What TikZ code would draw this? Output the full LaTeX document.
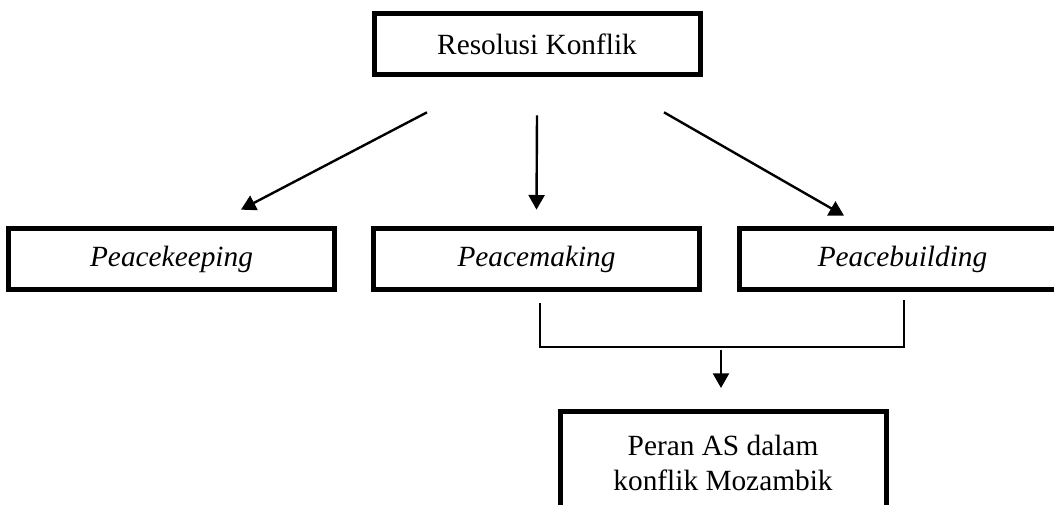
\documentclass[tikz,border=0pt]{standalone}
\usepackage{fontspec}
\setmainfont{Liberation Serif}
\usetikzlibrary{arrows.meta,positioning}

\begin{document}
\begin{tikzpicture}[x=0.75pt, y=-0.75pt, font=\fontsize{22}{26.25}\selectfont,
  box/.style={draw, line width=3.75pt, minimum width=244.5pt, minimum height=45.5pt, inner sep=0pt},
  arr/.style={-{Triangle[length=11pt,width=12pt]}, line width=1.8pt}]
  \useasboundingbox (0,0) rectangle (1054,505);
  \clip (0,0) rectangle (1054,505);

  \node[box] (top) at (537,44) {Resolusi Konflik};

  \node[box] (making) at (536.5,259) {\textit{Peacemaking}};
  \node[box, left=25.5pt of making] (keeping) {\textit{Peacekeeping}};
  \node[box, right=26.25pt of making] (building) {\textit{Peacebuilding}};

  \node[box, align=center, anchor=north, minimum height=77pt] (result) at (723,409.5) {Peran AS dalam\\konflik Mozambik};

  \draw[arr] ([shift={(-110,35.5)}]top.south) -- ([shift={(69.5,-16.5)}]keeping.north);
  \draw[arr] ([shift={(0,38.5)}]top.south) -- ([shift={(0,-16.5)}]making.north);
  \draw[arr] ([shift={(127,35.5)}]top.south) -- ([shift={(-58.5,-10.5)}]building.north);

  % join of the two lower branches
  \coordinate (join) at (721,347);
  \draw[line width=0.9pt] ([shift={(3.5,11.5)}]making.south) |- (join) -| ([shift={(1.5,8.5)}]building.south);
  \draw[arr] ([yshift=-2pt]join) -- ([shift={(-2,-21.5)}]result.north);
\end{tikzpicture}
\end{document}
